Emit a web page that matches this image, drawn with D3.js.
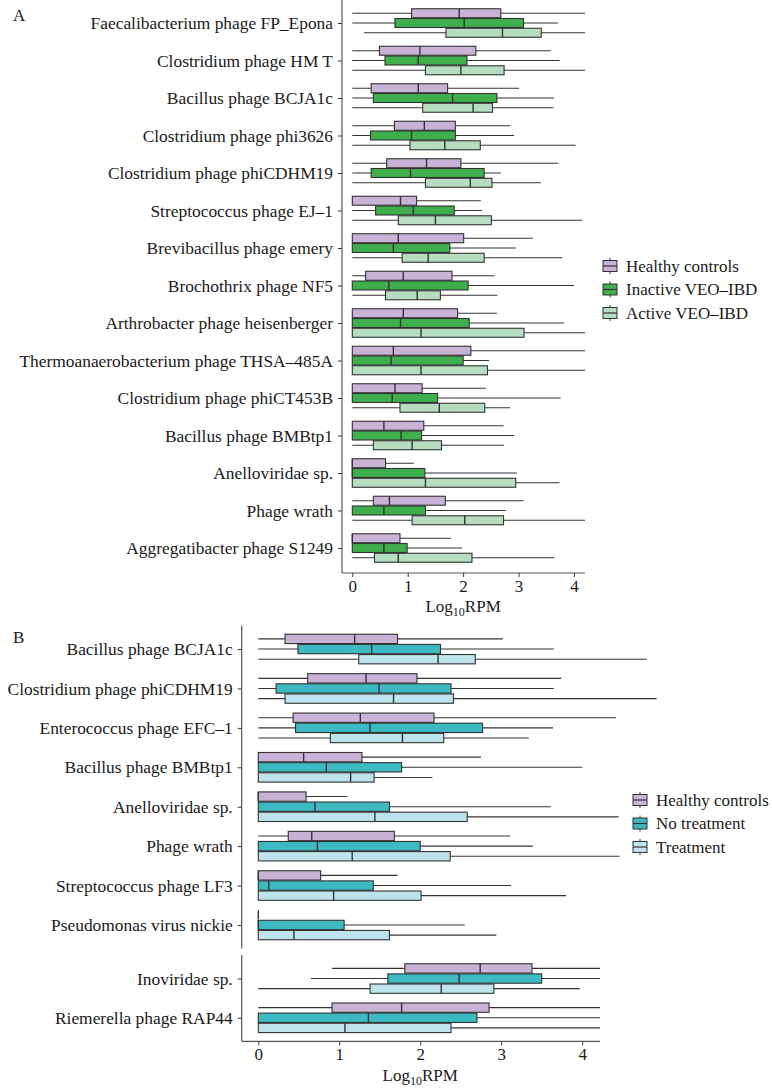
<!DOCTYPE html>
<html>
<head>
<meta charset="utf-8">
<script src="https://cdn.jsdelivr.net/npm/d3@7"></script>
<style>
  body { margin: 0; background: #ffffff; }
  svg text { font-family: "Liberation Serif", "DejaVu Serif", serif; fill: #1a1a1a; }
</style>
</head>
<body>
<div id="chart"></div>
<script>
// ---------------------------------------------------------------
// data: each entry is [min, q1, median, q3, max] in log10 RPM
// ---------------------------------------------------------------
var catsA = ["Faecalibacterium phage FP_Epona", "Clostridium phage HM T", "Bacillus phage BCJA1c",
  "Clostridium phage phi3626", "Clostridium phage phiCDHM19", "Streptococcus phage EJ–1",
  "Brevibacillus phage emery", "Brochothrix phage NF5", "Arthrobacter phage heisenberger",
  "Thermoanaerobacterium phage THSA–485A", "Clostridium phage phiCT453B", "Bacillus phage BMBtp1",
  "Anelloviridae sp.", "Phage wrath", "Aggregatibacter phage S1249"];
var groupsA = ["Healthy controls", "Inactive VEO–IBD", "Active VEO–IBD"];
var colorsA = ["#c8b2d6", "#3fae4d", "#b6ddbf"];

var healthyA = [[0, 1.07, 1.93, 2.68, 4.2], [0, 0.49, 1.22, 2.23, 3.58], [0, 0.34, 1.19, 1.72, 3.01],
  [0, 0.76, 1.30, 1.86, 2.85], [0, 0.62, 1.34, 1.96, 3.72], [0, 0, 0.87, 1.16, 2.32],
  [0, 0, 0.83, 2.01, 3.26], [0, 0.24, 0.92, 1.80, 2.57], [0, 0, 0.92, 1.90, 2.61],
  [0, 0, 0.74, 2.14, 4.2], [0, 0, 0.77, 1.26, 2.41], [0, 0, 0.57, 1.29, 2.73],
  [0, 0, 0, 0.60, 1.11], [0, 0.38, 0.67, 1.68, 3.09], [0, 0, 0, 0.86, 1.78]];
var inactiveA = [[0, 0.77, 2.02, 3.09, 3.71], [0, 0.59, 1.19, 2.07, 3.74], [0, 0.38, 1.81, 2.61, 3.64],
  [0, 0.33, 1.07, 1.86, 2.92], [0, 0.34, 1.05, 2.38, 2.68], [0, 0.42, 1.10, 1.84, 2.34],
  [0, 0, 0.74, 1.76, 2.95], [0, 0, 0.66, 2.09, 4.0], [0, 0, 0.87, 2.11, 3.82],
  [0, 0, 0.70, 2.0, 2.47], [0, 0, 0.72, 1.54, 3.76], [0, 0, 0.88, 1.25, 2.92],
  [0, 0, 0, 1.31, 2.97], [0, 0, 0.57, 1.32, 2.77], [0, 0, 0.57, 0.99, 1.98]];
var activeA = [[0.21, 1.69, 2.71, 3.41, 4.2], [0, 1.32, 1.96, 2.74, 4.2], [0, 1.27, 2.18, 2.53, 3.63],
  [0, 1.04, 1.67, 2.31, 4.03], [0, 1.32, 2.13, 2.52, 3.40], [0, 0.83, 1.50, 2.51, 4.15],
  [0, 0.90, 1.37, 2.38, 3.79], [0, 0.60, 1.17, 1.59, 2.62], [0, 0, 1.24, 3.10, 4.2],
  [0, 0, 1.24, 2.44, 4.2], [0, 0.86, 1.57, 2.39, 2.85], [0, 0.38, 1.08, 1.61, 2.74],
  [0, 0, 1.32, 2.95, 3.74], [0, 1.08, 2.03, 2.73, 4.2], [0, 0.40, 0.83, 2.16, 3.65]];

var catsB = ["Bacillus phage BCJA1c", "Clostridium phage phiCDHM19", "Enterococcus phage EFC–1",
  "Bacillus phage BMBtp1", "Anelloviridae sp.", "Phage wrath", "Streptococcus phage LF3",
  "Pseudomonas virus nickie"];
var catsB2 = ["Inoviridae sp.", "Riemerella phage RAP44"];
var groupsB = ["Healthy controls", "No treatment", "Treatment"];
var colorsB = ["#c8b2d6", "#3db9c1", "#bee3ec"];

var healthyB = [[0, 0.33, 1.19, 1.72, 3.02], [0, 0.61, 1.33, 1.96, 3.74], [0, 0.43, 1.26, 2.17, 4.42],
  [0, 0, 0.56, 1.28, 2.75], [0, 0, 0, 0.59, 1.10], [0, 0.37, 0.66, 1.68, 3.11],
  [0, 0, 0, 0.77, 1.72], [0, 0, 0, 0, 0], [0.91, 1.81, 2.74, 3.38, 4.22], [0, 0.91, 1.77, 2.85, 4.22]];
var noTreatB = [[0, 0.49, 1.40, 2.25, 3.65], [0, 0.22, 1.49, 2.38, 3.65], [0, 0.46, 1.38, 2.77, 3.64],
  [0, 0, 0.84, 1.77, 4.0], [0, 0, 0.70, 1.62, 3.61], [0, 0, 0.73, 2.0, 3.39],
  [0, 0, 0.13, 1.42, 3.12], [0, 0, 0, 1.06, 2.55], [0.65, 1.60, 2.48, 3.50, 4.22], [0, 0, 1.36, 2.70, 4.22]];
var treatB = [[0, 1.24, 2.22, 2.68, 4.80], [0, 0.33, 1.67, 2.41, 4.92], [0, 0.89, 1.78, 2.29, 3.34],
  [0, 0, 1.14, 1.43, 2.15], [0, 0, 1.44, 2.58, 4.45], [0, 0, 1.16, 2.37, 4.46],
  [0, 0, 0.93, 2.01, 3.80], [0, 0, 0.44, 1.62, 2.94], [0, 1.38, 2.26, 2.91, 3.97], [0, 0, 1.07, 2.38, 4.22]];

var ticksX = [0, 1, 2, 3, 4];

// ---------------------------------------------------------------
var W = 772, H = 1089;
var FS = "17px";
var svg = d3.select("#chart").append("svg").attr("width", W).attr("height", H);
svg.append("rect").attr("width", W).attr("height", H).style("fill", "#ffffff");

var axisCol = "#555555";
var lineCol = "#333333";

function buildRows(cats, series) {
  var rows = [];
  cats.forEach(function(c, i) {
    series.forEach(function(s, j) {
      var v = s[i];
      rows.push({cat: c, g: j, min: v[0], q1: v[1], med: v[2], q3: v[3], max: v[4]});
    });
  });
  return rows;
}

// draw boxplots of rows into g, using x scale, y point scale and dodge band
function drawBoxes(g, rows, x, y, dodge, colors) {
  var bw = dodge.bandwidth();
  var grp = g.selectAll("g.box").data(rows).enter().append("g").attr("class", "box")
    .attr("transform", function(d) { return "translate(0," + (y(d.cat) + dodge(d.g)) + ")"; });

  grp.append("line")
    .attr("x1", function(d) { return x(d.min); })
    .attr("x2", function(d) { return x(d.max); })
    .attr("y1", bw / 2).attr("y2", bw / 2)
    .style("stroke", lineCol).style("stroke-width", "1.1px");

  grp.append("rect")
    .attr("x", function(d) { return x(d.q1); })
    .attr("y", 0)
    .attr("width", function(d) { return x(d.q3) - x(d.q1); })
    .attr("height", bw)
    .style("fill", function(d) { return colors[d.g]; })
    .style("stroke", lineCol).style("stroke-width", "1.1px");

  grp.append("line")
    .attr("x1", function(d) { return x(d.med); })
    .attr("x2", function(d) { return x(d.med); })
    .attr("y1", 0).attr("y2", bw)
    .style("stroke", lineCol).style("stroke-width", "1.4px");
}

function leftAxis(g, y, x0, yTop, yBot) {
  var ax = g.append("g").attr("transform", "translate(" + x0 + ",0)")
    .call(d3.axisLeft(y).tickSize(4).tickPadding(5));
  ax.select(".domain").remove();
  ax.selectAll(".tick line").style("stroke", lineCol);
  ax.selectAll(".tick text").style("font-size", "17.4px").style("font-family", "Liberation Serif").style("fill", "#1a1a1a");
  g.append("line").attr("x1", x0).attr("x2", x0).attr("y1", yTop).attr("y2", yBot)
    .style("stroke", axisCol).style("stroke-width", "1.2px");
}

function bottomAxis(g, x, y0, xLeft, xRight) {
  var ax = g.append("g").attr("transform", "translate(0," + y0 + ")")
    .call(d3.axisBottom(x).tickValues(ticksX).tickFormat(d3.format("d")).tickSize(4).tickPadding(3));
  ax.select(".domain").remove();
  ax.selectAll(".tick line").style("stroke", lineCol);
  ax.selectAll(".tick text").style("font-size", FS).style("font-family", "Liberation Serif").style("fill", "#1a1a1a");
  g.append("line").attr("x1", xLeft).attr("x2", xRight).attr("y1", y0).attr("y2", y0)
    .style("stroke", axisCol).style("stroke-width", "1.2px");
}

function axisTitle(g, xc, yb) {
  var t = g.append("text").attr("x", xc).attr("y", yb).attr("text-anchor", "middle").style("font-size", FS);
  t.append("tspan").text("Log");
  t.append("tspan").attr("dy", 4).style("font-size", "12px").text("10");
  t.append("tspan").attr("dy", -4).text("RPM");
}

function legend(g, x0, y0, groups, colors) {
  var it = g.selectAll("g.leg").data(groups).enter().append("g").attr("class", "leg")
    .attr("transform", function(d, i) { return "translate(" + x0 + "," + (y0 + i * 23.5) + ")"; });
  it.append("line").attr("x1", 7).attr("x2", 7).attr("y1", -8).attr("y2", 8)
    .style("stroke", lineCol).style("stroke-width", "1px");
  it.append("rect").attr("x", 0).attr("y", -5.5).attr("width", 14).attr("height", 11)
    .style("fill", function(d, i) { return colors[i]; })
    .style("stroke", lineCol).style("stroke-width", "1px");
  it.append("line").attr("x1", 0).attr("x2", 14).attr("y1", 0).attr("y2", 0)
    .style("stroke", lineCol).style("stroke-width", "1.2px");
  it.append("text").attr("x", 23).attr("y", 5.5).style("font-size", FS).text(function(d) { return d; });
}

// ---------------------------------------------------------------
// Panel A
// ---------------------------------------------------------------
var gA = svg.append("g");
var xA = d3.scaleLinear().domain([-0.186, 4.2]).range([342, 585]);
var yA = d3.scalePoint().domain(catsA).range([0.5, 570.5]).padding(0.6);
var dodgeA = d3.scaleBand().domain([0, 1, 2]).range([-14.25, 14.25]).paddingInner(0.08);

drawBoxes(gA, buildRows(catsA, [healthyA, inactiveA, activeA]), xA, yA, dodgeA, colorsA);
leftAxis(gA, yA, 342, 0, 573);
bottomAxis(gA, xA, 573, 342, 585);
axisTitle(gA, xA(2), 612);
legend(gA, 603, 266, groupsA, colorsA);
gA.append("text").attr("x", 13).attr("y", 21).style("font-size", "17px").text("A");

// ---------------------------------------------------------------
// Panel B (two facets)
// ---------------------------------------------------------------
var gB = svg.append("g");
var xB = d3.scaleLinear().domain([-0.205, 4.22]).range([241.7, 600]);
var yB1 = d3.scalePoint().domain(catsB).range([625.4, 948.6]).padding(0.6);
var yB2 = d3.scalePoint().domain(catsB2).range([955, 1041.3]).padding(0.6);
var dodgeB = d3.scaleBand().domain([0, 1, 2]).range([-14.8, 14.8]).paddingInner(0.08);

var rowsB = buildRows(catsB.concat(catsB2), [healthyB, noTreatB, treatB]);
drawBoxes(gB.append("g"), rowsB.filter(function(d) { return catsB.indexOf(d.cat) >= 0; }), xB, yB1, dodgeB, colorsB);
drawBoxes(gB.append("g"), rowsB.filter(function(d) { return catsB2.indexOf(d.cat) >= 0; }), xB, yB2, dodgeB, colorsB);
leftAxis(gB, yB1, 241.7, 625.4, 948.6);
leftAxis(gB, yB2, 241.7, 955, 1041.3);
bottomAxis(gB, xB, 1041.3, 241.7, 600);
axisTitle(gB, xB(2), 1081);
legend(gB, 633, 800, groupsB, colorsB);
gB.append("text").attr("x", 13).attr("y", 643).style("font-size", "17px").text("B");
</script>
</body>
</html>
